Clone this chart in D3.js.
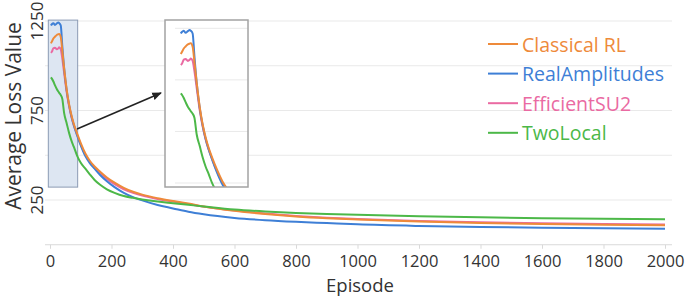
<!DOCTYPE html>
<html lang="en">
<head>
<meta charset="utf-8">
<title>Average Loss Value</title>
<script src="https://d3js.org/d3.v7.min.js"></script>
<style>
  body { margin: 0; background: #fff; }
  svg { display: block; font-family: "Open Sans", "Noto Sans", sans-serif; }
</style>
</head>
<body>
<div id="chart"></div>
<script>
// data
let episodes = [3, 6, 11, 16, 22, 27, 30, 35, 40, 46, 54, 62, 70, 78, 88, 100, 115, 130, 145, 163,
                185, 210, 240, 270, 300, 350, 400, 450, 500, 600, 700, 800, 900, 1000, 1200, 1400, 1600, 1800, 2000];
let classicalRL = [1125, 1135, 1152, 1162, 1172, 1176, 1178, 1160, 1085, 985, 870, 785, 722, 672, 622, 568, 510, 468, 437, 408,
                   376, 347, 318, 296, 280, 260, 244, 230, 214, 190, 172, 158, 148, 141, 130, 122, 116, 112, 109];
let realAmplitudes = [1225, 1232, 1238, 1228, 1236, 1242, 1238, 1225, 1110, 985, 865, 780, 715, 665, 612, 555, 495, 455, 425, 390,
                      355, 322, 290, 266, 248, 222, 203, 184, 170, 150, 137, 128, 121, 114, 105, 99, 95, 92, 90];
let efficientSU2 = [1072, 1078, 1098, 1101, 1092, 1097, 1103, 1092, 1040, 960, 855, 775, 712, 664, 615, 560, 502, 462, 431, 402,
                    368, 338, 310, 290, 275, 256, 241, 227, 213, 191, 174, 161, 151, 144, 133, 126, 120, 116, 113];
let twoLocal = [935, 928, 912, 892, 870, 856, 848, 836, 815, 735, 680, 625, 580, 545, 498, 458, 425, 392, 362, 335,
                310, 290, 272, 262, 253, 241, 232, 223, 214, 197, 186, 178, 172, 167, 159, 153, 148, 145, 143];
let seriesNames = ["Classical RL", "RealAmplitudes", "EfficientSU2", "TwoLocal"];
let seriesColors = ["#ee8a3a", "#3e7fd6", "#ea6aa2", "#4cb848"];
let xTicks = [0, 200, 400, 600, 800, 1000, 1200, 1400, 1600, 1800, 2000];
let yGrid = [250, 500, 750, 1000, 1250];
let yLabels = [250, 750, 1250];
let insetGrid = [500, 750, 1000, 1250];

let series = [
  { name: seriesNames[2], color: seriesColors[2], values: efficientSU2 },
  { name: seriesNames[1], color: seriesColors[1], values: realAmplitudes },
  { name: seriesNames[0], color: seriesColors[0], values: classicalRL },
  { name: seriesNames[3], color: seriesColors[3], values: twoLocal }
];

let width = 685, height = 299;
let svg = d3.select("#chart").append("svg")
  .attr("width", width).attr("height", height);

let x = d3.scaleLinear().domain([0, 2000]).range([50, 665]);
let y = d3.scaleLinear().domain([0, 1250]).range([244.75, 21]);

// grid
svg.append("g").selectAll("line").data(yGrid).enter().append("line")
  .attr("x1", 45).attr("x2", 672)
  .attr("y1", d => y(d)).attr("y2", d => y(d))
  .attr("stroke", "#e9e9e9").attr("stroke-width", 1);

// x axis
let xAxis = svg.append("g").attr("transform", "translate(0," + y(0) + ")")
  .call(d3.axisBottom(x).tickValues(xTicks).tickFormat(d3.format("d")).tickSize(4).tickPadding(4));
xAxis.select(".domain").attr("stroke", "#d9d9d9").attr("d", "M45,0H672");
xAxis.selectAll(".tick line").attr("stroke", "#d9d9d9");
xAxis.selectAll(".tick text")
  .attr("fill", "#333").attr("font-size", 16.5).attr("dy", null).attr("y", 22)
  .style("font-family", "'Open Sans'");

// y tick labels, rotated
svg.append("g").selectAll("text").data(yLabels).enter().append("text")
  .attr("transform", d => "translate(43," + y(d) + ") rotate(-90)")
  .attr("text-anchor", "middle")
  .attr("font-size", 17).attr("fill", "#333")
  .text(d => d);

// axis titles
svg.append("text")
  .attr("transform", "translate(21,116) rotate(-90)")
  .attr("text-anchor", "middle").attr("font-size", 21).attr("fill", "#333")
  .text("Average Loss Value");
svg.append("text")
  .attr("x", 360).attr("y", 292)
  .attr("text-anchor", "middle").attr("font-size", 18.5).attr("fill", "#333")
  .text("Episode");

// highlighted region
svg.append("rect")
  .attr("x", x(-5.5)).attr("y", y(1255))
  .attr("width", x(90) - x(-5.5)).attr("height", y(322) - y(1255))
  .attr("fill", "#dde6f2").attr("stroke", "#8b9ab3").attr("stroke-width", 1);

// main lines
let line = d3.line()
  .x((d, i) => x(episodes[i]))
  .y(d => y(d))
  .curve(d3.curveMonotoneX);

svg.append("g").selectAll("path").data(series).enter().append("path")
  .attr("d", d => line(d.values))
  .attr("fill", "none").attr("stroke", d => d.color).attr("stroke-width", 2);

// arrow
svg.append("defs").append("marker")
  .attr("id", "arrow").attr("viewBox", "0 0 10 10")
  .attr("refX", 9).attr("refY", 5)
  .attr("markerWidth", 6).attr("markerHeight", 6)
  .attr("orient", "auto")
  .append("path").attr("d", "M0,1L10,5L0,9z").attr("fill", "#222");
svg.append("line")
  .attr("x1", 77).attr("y1", 129).attr("x2", 161).attr("y2", 93)
  .attr("stroke", "#222").attr("stroke-width", 1.6)
  .attr("marker-end", "url(#arrow)");

// inset
let inset = { x: 165, y: 20, w: 83, h: 167 };
let ix = d3.scaleLinear().domain([0, 185]).range([179.7, 248.1]);
let iy = d3.scaleLinear().domain([500, 1250]).range([183, 28.3]);

svg.append("rect")
  .attr("x", inset.x).attr("y", inset.y).attr("width", inset.w).attr("height", inset.h)
  .attr("fill", "#fff");
svg.append("clipPath").attr("id", "insetClip").append("rect")
  .attr("x", inset.x).attr("y", inset.y).attr("width", inset.w).attr("height", inset.h);

let ig = svg.append("g").attr("clip-path", "url(#insetClip)");
ig.selectAll("line").data(insetGrid).enter().append("line")
  .attr("x1", 175).attr("x2", inset.x + inset.w)
  .attr("y1", d => iy(d)).attr("y2", d => iy(d))
  .attr("stroke", "#e9e9e9").attr("stroke-width", 1);

let iline = d3.line()
  .defined((d, i) => episodes[i] <= 185)
  .x((d, i) => ix(episodes[i]))
  .y(d => iy(d))
  .curve(d3.curveMonotoneX);
ig.selectAll("path").data(series).enter().append("path")
  .attr("d", d => iline(d.values))
  .attr("fill", "none").attr("stroke", d => d.color).attr("stroke-width", 2);

svg.append("rect")
  .attr("x", inset.x).attr("y", inset.y).attr("width", inset.w).attr("height", inset.h)
  .attr("fill", "none").attr("stroke", "#a3a3a3").attr("stroke-width", 1.5);

// legend
let legend = svg.append("g").selectAll("g").data(seriesNames).enter().append("g")
  .attr("transform", (d, i) => "translate(0," + (44 + i * 29.6) + ")");
legend.append("line")
  .attr("x1", 488).attr("x2", 518).attr("y1", 0).attr("y2", 0)
  .attr("stroke", (d, i) => seriesColors[i]).attr("stroke-width", 2);
legend.append("text")
  .attr("x", 522).attr("y", 7.5)
  .attr("font-size", 19.5).attr("fill", (d, i) => seriesColors[i])
  .text(d => d);
</script>
</body>
</html>
